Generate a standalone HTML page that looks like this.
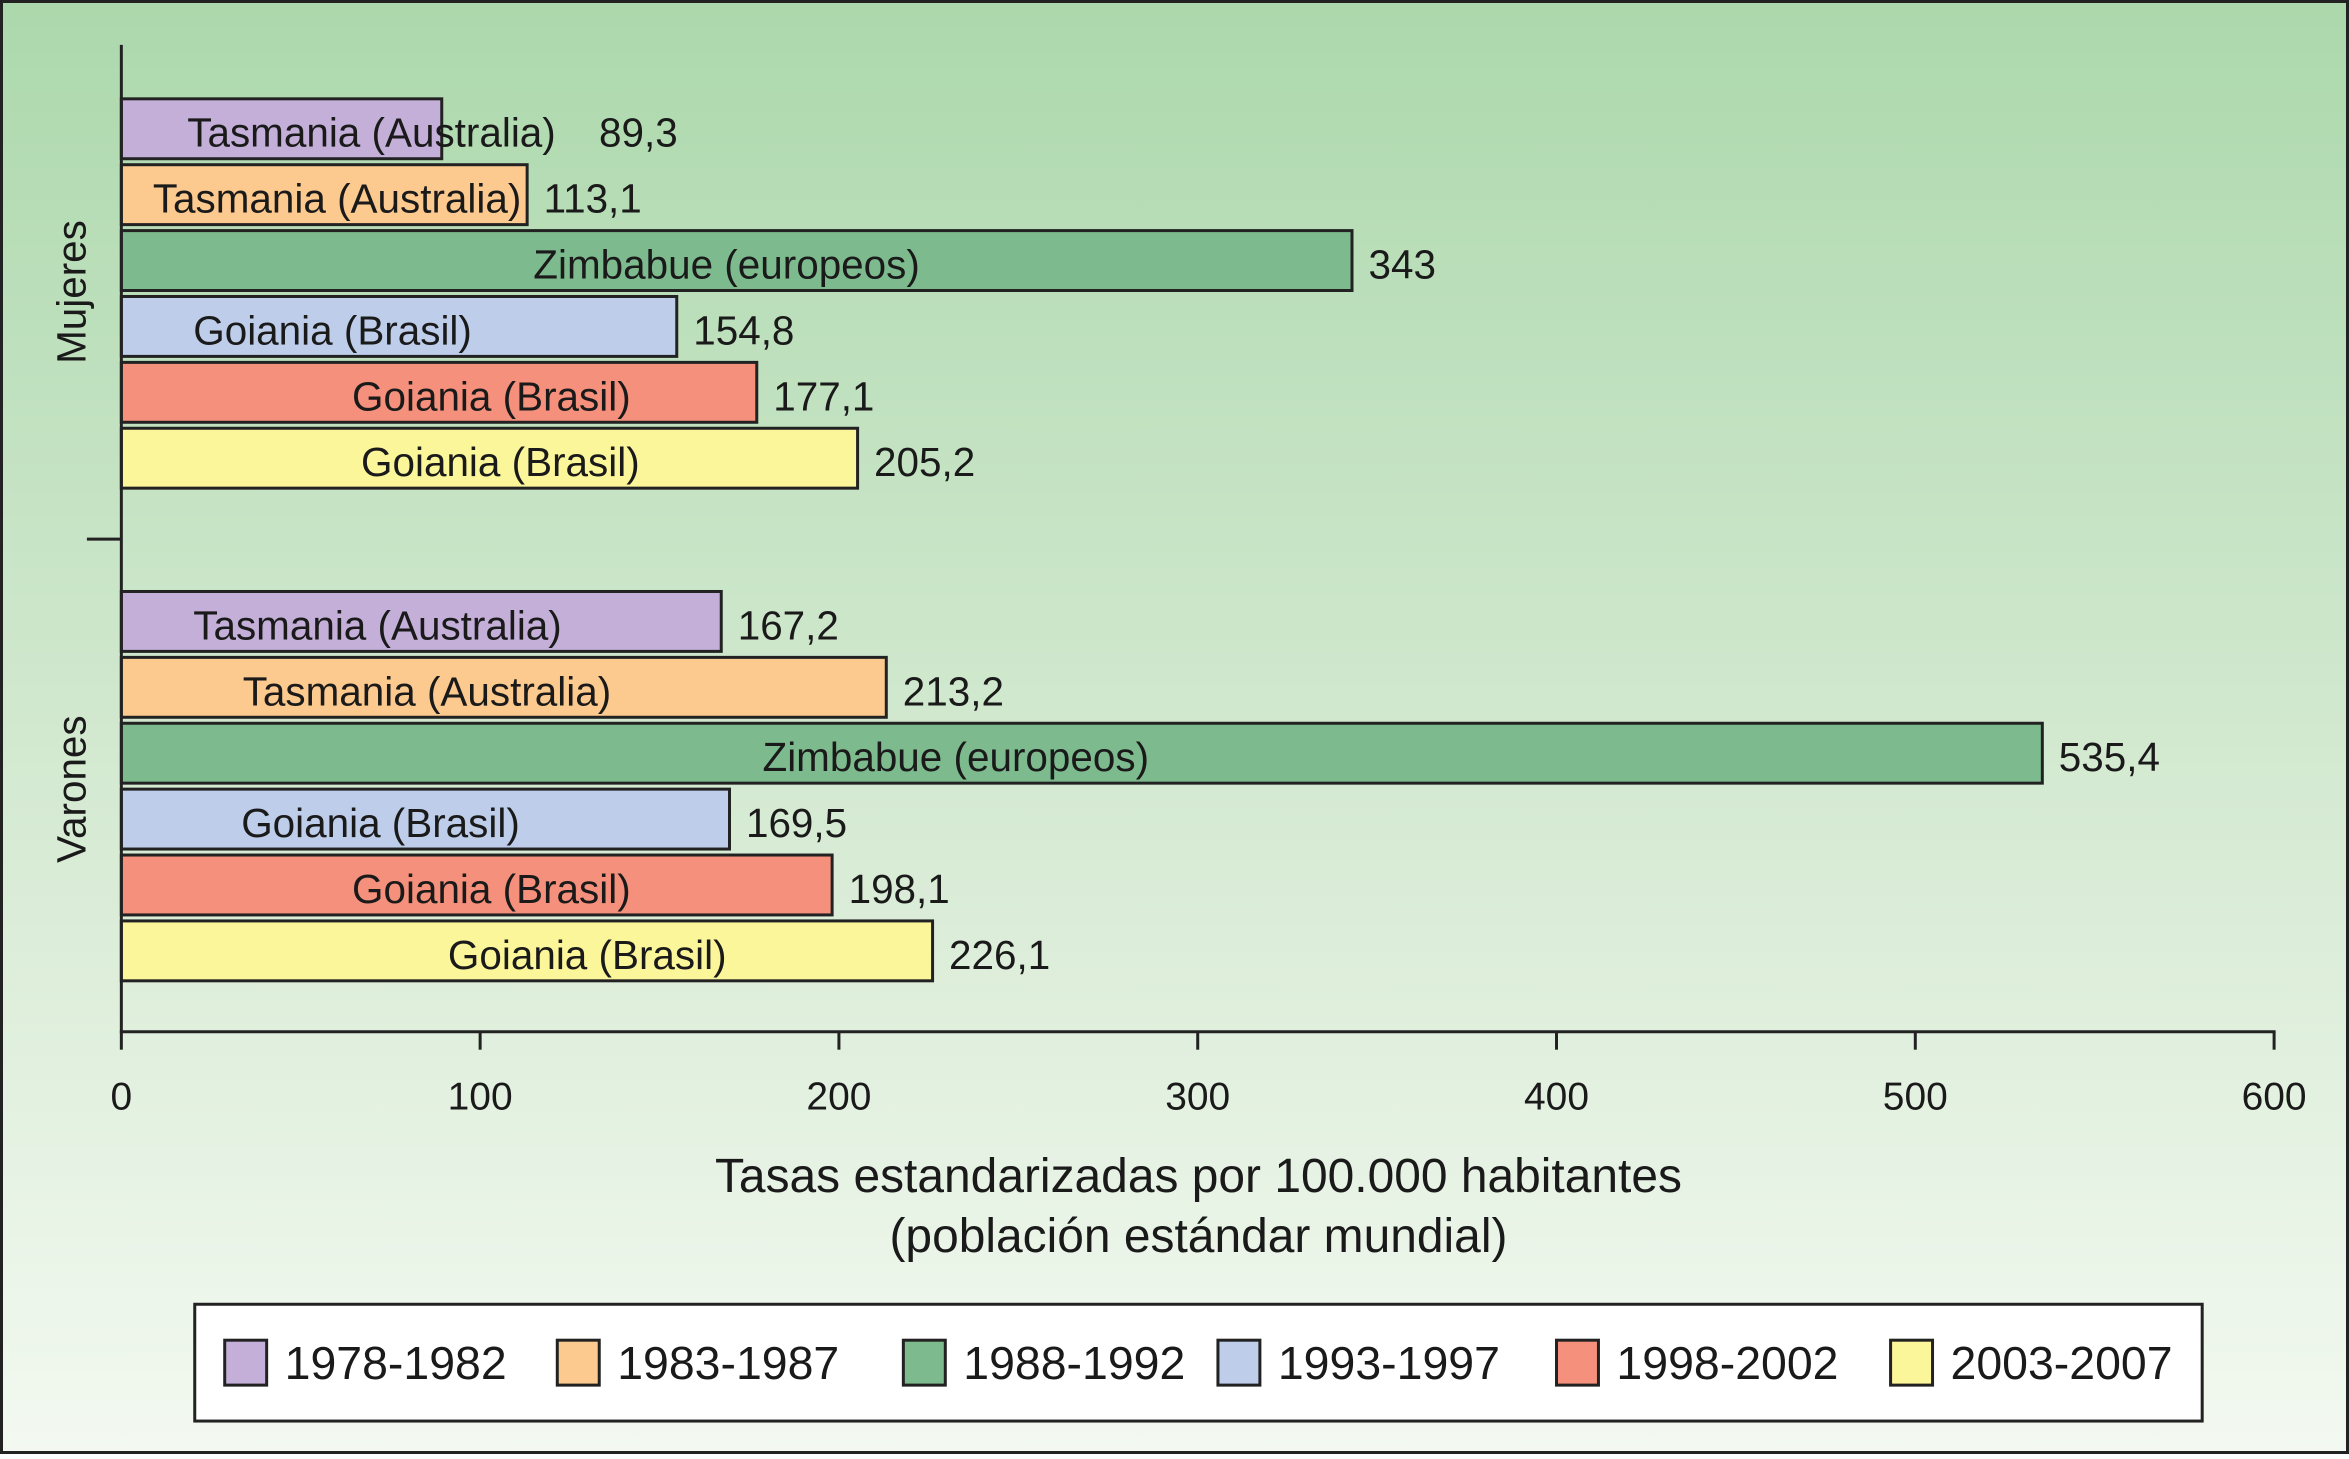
<!DOCTYPE html>
<html><head><meta charset="utf-8"><style>
html,body{margin:0;padding:0;}
body{width:2349px;height:1454px;overflow:hidden;}
svg text{font-family:"Liberation Sans",sans-serif;fill:#1a1a1a;}
</style></head><body>
<svg id="chart" width="2349" height="1454" viewBox="0 0 1568 971" preserveAspectRatio="none" xmlns="http://www.w3.org/2000/svg">
<defs><linearGradient id="bg" x1="0" y1="0" x2="0" y2="1">
<stop offset="0" stop-color="#acd8ac"/><stop offset="0.6" stop-color="#d9ecd6"/><stop offset="1" stop-color="#f3f9f1"/></linearGradient></defs>
<rect x="1" y="1" width="1566" height="969" fill="url(#bg)" stroke="#222" stroke-width="2"/>
<g id="bars"></g>
<g id="axes"></g>
<text transform="translate(57,195) rotate(-90)" text-anchor="middle" font-size="27">Mujeres</text>
<text transform="translate(57,527) rotate(-90)" text-anchor="middle" font-size="27">Varones</text>
<text x="800" y="796" text-anchor="middle" font-size="32">Tasas estandarizadas por 100.000 habitantes</text>
<text x="800" y="836" text-anchor="middle" font-size="32">(población estándar mundial)</text>
<rect x="130" y="871" width="1340" height="78" fill="#fff" stroke="#222" stroke-width="2"/>
<g id="legend"></g>
</svg>
<script>
const periods = ["1978-1982","1983-1987","1988-1992","1993-1997","1998-2002","2003-2007"];
const colors = ["#c4afd8","#fcc98e","#7dbb8e","#bdcdea","#f4907b","#fcf69b"];
const places = ["Tasmania (Australia)","Tasmania (Australia)","Zimbabue (europeos)","Goiania (Brasil)","Goiania (Brasil)","Goiania (Brasil)"];
const mujeres = [89.3,113.1,343,154.8,177.1,205.2];
const mujeresLabels = ["89,3","113,1","343","154,8","177,1","205,2"];
const varones = [167.2,213.2,535.4,169.5,198.1,226.1];
const varonesLabels = ["167,2","213,2","535,4","169,5","198,1","226,1"];
const xTicks = [0,100,200,300,400,500,600];
const mujLabelCenter = [248,225,485,222,328,334];
const varLabelCenter = [252,285,638,254,328,392];
const NS="http://www.w3.org/2000/svg";
const x = v => 81 + v*(1518-81)/600;
function mk(t,a,p){const e=document.createElementNS(NS,t);for(const k in a)e.setAttribute(k,a[k]);p.appendChild(e);return e;}
const bars=document.getElementById('bars');
function group(vals,labs,centers,y0,name){
  vals.forEach((v,i)=>{
    const y=y0+i*44;
    const r=mk('rect',{x:x(0),y:y,width:x(v)-x(0),height:40,fill:colors[i],stroke:'#222','stroke-width':2},bars);
    
    
    const t=mk('text',{x:centers[i],y:y+32,'text-anchor':'middle','font-size':27},bars);
    t.textContent=places[i];
    
    
    const vt=mk('text',{x:x(v)+(i==0&&name=='mujeres'?105:11),y:y+32,'font-size':27},bars);
    vt.textContent=labs[i];
    
    
  });
}
group(mujeres,mujeresLabels,mujLabelCenter,66,'mujeres');
group(varones,varonesLabels,varLabelCenter,395,'varones');
const ax=document.getElementById('axes');
let l=mk('line',{x1:81,y1:30,x2:81,y2:689,stroke:'#222','stroke-width':2},ax);

l=mk('line',{x1:58,y1:360,x2:81,y2:360,stroke:'#222','stroke-width':2},ax);

l=mk('line',{x1:80,y1:689,x2:x(600)+1,y2:689,stroke:'#222','stroke-width':2},ax);

xTicks.forEach(t=>{
  const tk=mk('line',{x1:x(t),y1:689,x2:x(t),y2:701,stroke:'#222','stroke-width':2},ax);
  
  const tl=mk('text',{x:x(t),y:741,'text-anchor':'middle','font-size':26},ax);
  tl.textContent=t;
  
});
const lg=document.getElementById('legend');
const lx=[150,372,603,813,1039,1262];
periods.forEach((p,i)=>{
  const s=mk('rect',{x:lx[i],y:895,width:28,height:30,fill:colors[i],stroke:'#222','stroke-width':2},lg);
  
  const t=mk('text',{x:lx[i]+40,y:921,'font-size':31},lg);
  t.textContent=p;
  
});
</script>
</body></html>
